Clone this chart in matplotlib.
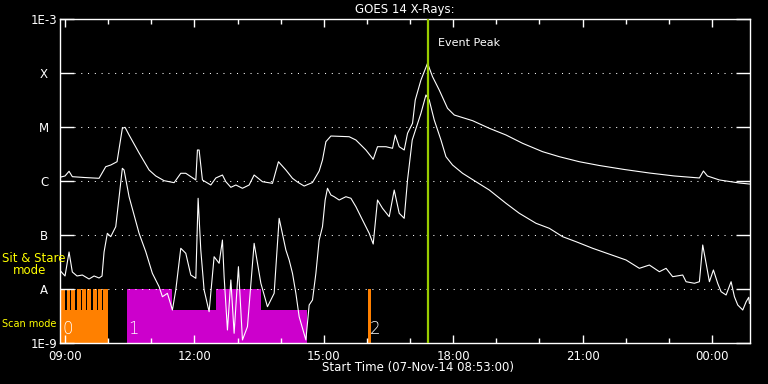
import numpy as np
import matplotlib
matplotlib.use('Agg')
import matplotlib.pyplot as plt
from matplotlib.ticker import NullLocator, FixedLocator

# times are hours from 00:00 on 07-Nov-14 (values > 24 are next day)
# flux given as log10(W/m^2)
long_t = [8.877, 9.0, 9.093, 9.169, 9.441, 9.789, 9.944, 10.060, 10.206, 10.329,
          10.392, 10.485, 10.717, 10.949, 11.104, 11.297, 11.529, 11.684, 11.800, 12.033,
          12.070, 12.109, 12.186, 12.381, 12.497, 12.650, 12.729, 12.845, 12.961, 13.114,
          13.269, 13.385, 13.578, 13.810, 13.949, 14.121, 14.274, 14.390, 14.545, 14.738,
          14.893, 14.970, 15.049, 15.165, 15.589, 15.745, 15.977, 16.146, 16.246, 16.441,
          16.594, 16.657, 16.749, 16.865, 16.942, 17.058, 17.121, 17.253, 17.406, 17.522,
          17.677, 17.870, 18.026, 18.450, 18.838, 19.225, 19.610, 20.074, 20.462, 20.926,
          21.390, 21.970, 22.550, 23.130, 23.710, 23.803, 23.896, 24.174, 24.638, 24.870]
long_lg = [-5.931, -5.907, -5.820, -5.920, -5.935, -5.950, -5.735, -5.704, -5.643, -5.024,
           -5.006, -5.148, -5.481, -5.796, -5.907, -5.994, -6.031, -5.857, -5.857, -5.981,
           -5.426, -5.426, -5.981, -6.074, -5.944, -5.889, -6.013, -6.117, -6.074, -6.135,
           -6.074, -5.889, -6.013, -6.043, -5.643, -5.796, -5.950, -6.019, -6.093, -6.028,
           -5.815, -5.611, -5.272, -5.167, -5.180, -5.241, -5.426, -5.598, -5.365, -5.365,
           -5.394, -5.148, -5.365, -5.426, -5.117, -4.931, -4.500, -4.130, -3.820, -4.069,
           -4.315, -4.654, -4.778, -4.883, -5.024, -5.148, -5.302, -5.457, -5.550, -5.643,
           -5.713, -5.787, -5.852, -5.907, -5.944, -5.815, -5.907, -5.981, -6.037, -6.056]

short_t = [8.877, 8.937, 9.0, 9.093, 9.169, 9.278, 9.401, 9.557, 9.673, 9.789,
           9.858, 9.905, 9.981, 10.060, 10.176, 10.329, 10.369, 10.485, 10.717, 10.872,
           11.025, 11.181, 11.258, 11.374, 11.490, 11.568, 11.684, 11.800, 11.916, 12.033,
           12.086, 12.148, 12.225, 12.341, 12.457, 12.573, 12.650, 12.689, 12.766, 12.845,
           12.921, 13.021, 13.114, 13.230, 13.385, 13.541, 13.694, 13.849, 13.965, 14.121,
           14.197, 14.274, 14.353, 14.429, 14.585, 14.661, 14.738, 14.817, 14.893, 14.970,
           15.032, 15.086, 15.165, 15.241, 15.357, 15.513, 15.629, 15.745, 15.898, 16.053,
           16.146, 16.246, 16.362, 16.517, 16.633, 16.749, 16.865, 16.942, 17.051, 17.253,
           17.369, 17.445, 17.561, 17.717, 17.833, 17.986, 18.218, 18.529, 18.838, 19.225,
           19.534, 19.921, 20.230, 20.538, 20.849, 21.234, 22.009, 22.318, 22.550, 22.782,
           22.937, 23.090, 23.323, 23.401, 23.594, 23.710, 23.787, 23.865, 23.942, 24.035,
           24.134, 24.213, 24.329, 24.445, 24.522, 24.599, 24.715, 24.794, 24.854, 24.870]
short_lg = [-7.648, -7.704, -7.759, -7.315, -7.685, -7.759, -7.741, -7.815, -7.759, -7.796,
            -7.759, -7.315, -6.969, -7.031, -6.846, -5.765, -5.796, -6.291, -6.969, -7.309,
            -7.709, -7.957, -8.143, -8.080, -8.389, -8.019, -7.246, -7.339, -7.741, -7.802,
            -6.320, -7.278, -8.019, -8.420, -7.402, -7.524, -7.093, -7.772, -8.759, -7.833,
            -8.820, -7.587, -8.944, -8.698, -7.154, -7.894, -8.328, -8.080, -6.691, -7.278,
            -7.463, -7.709, -8.080, -8.513, -8.944, -8.296, -8.204, -7.709, -7.093, -6.846,
            -6.352, -6.135, -6.259, -6.291, -6.352, -6.291, -6.320, -6.476, -6.722, -6.969,
            -7.167, -6.352, -6.506, -6.661, -6.167, -6.598, -6.691, -5.981, -5.241, -4.746,
            -4.407, -4.500, -4.870, -5.241, -5.550, -5.704, -5.857, -6.013, -6.167, -6.413,
            -6.598, -6.783, -6.876, -7.031, -7.124, -7.246, -7.463, -7.617, -7.556, -7.680,
            -7.617, -7.772, -7.741, -7.865, -7.894, -7.865, -7.185, -7.524, -7.865, -7.648,
            -7.894, -8.050, -8.111, -7.865, -8.143, -8.296, -8.389, -8.235, -8.154, -8.265]

# instrument mode blocks: (start, end) in hours
scan_blocks = [(8.884, 9.998), (10.439, 14.615)]
scan_colors = ['#ff8000', '#cc00cc']
stare_blocks = [(8.884, 8.993), (9.039, 9.116), (9.146, 9.239), (9.271, 9.364),
                (9.401, 9.480), (9.517, 9.610), (9.643, 9.735), (9.766, 9.852),
                (9.889, 9.998), (10.439, 11.483), (12.503, 13.548), (16.030, 16.088)]
stare_colors = ['#ff8000'] * 9 + ['#cc00cc', '#cc00cc', '#ff8000']
block_labels = ['0', '1', '2']
block_label_t = [8.95, 10.47, 16.06]

scan_level = -8.389
stare_level = -8.0
peak_t = 17.42

level_vals = [1e-9, 1e-8, 1e-7, 1e-6, 1e-5, 1e-4, 1e-3]
level_names = ['1E-9', 'A', 'B', 'C', 'M', 'X', '1E-3']
hour_ticks = [9, 12, 15, 18, 21, 24]
hour_labels = ['09:00', '12:00', '15:00', '18:00', '21:00', '00:00']

fig = plt.figure(figsize=(7.68, 3.84), dpi=100, facecolor='black')
ax = fig.add_axes([60 / 768, 1 - 343 / 384, 690 / 768, 324 / 384], facecolor='black')
ax.set_yscale('log')
ax.set_xlim(8.8833, 24.8833)
ax.set_ylim(1e-9, 1e-3)

for (a, b), c in zip(scan_blocks, scan_colors):
    ax.bar(a, 10 ** scan_level - 1e-9, width=b - a, bottom=1e-9, align='edge',
           color=c, linewidth=0, antialiased=False, zorder=1)
for (a, b), c in zip(stare_blocks, stare_colors):
    ax.bar(a, 10 ** stare_level - 1e-9, width=b - a, bottom=1e-9, align='edge',
           color=c, linewidth=0, antialiased=False, zorder=1)
for t, s in zip(block_label_t, block_labels):
    ax.text(t, 1.25e-9, s, color='white', fontsize=12, fontweight='light',
            ha='left', va='bottom', zorder=4)

# dotted level lines
for v in level_vals[1:-1]:
    ax.axhline(v, xmin=14 / 690, xmax=1 - 14 / 690, color='white', lw=0.75,
               linestyle=(0, (1, 5.5)), zorder=2)

ax.plot(long_t, 10 ** np.array(long_lg), color='white', lw=0.8, zorder=3)
ax.plot(short_t, 10 ** np.array(short_lg), color='white', lw=0.8, zorder=3)

ax.axvline(peak_t, color='#99cc00', lw=1.6, zorder=5)
ax.text(peak_t + 0.22, 10 ** -3.45, 'Event Peak', color='white', fontsize=8,
        ha='left', va='center')

for sp in ax.spines.values():
    sp.set_color('white')
    sp.set_linewidth(1.0)

ax.yaxis.set_major_locator(FixedLocator(level_vals))
ax.yaxis.set_minor_locator(NullLocator())
ax.set_yticklabels(level_names)
for lab in ax.get_yticklabels():
    lab.set_horizontalalignment('center')
ax.tick_params(axis='y', which='major', direction='in', length=10, width=1,
               colors='white', right=True, labelsize=8.5, pad=11.5)

ax.set_xticks(hour_ticks)
ax.set_xticklabels(hour_labels)
ax.xaxis.set_minor_locator(FixedLocator(np.arange(9, 25)))
ax.tick_params(axis='x', which='major', direction='in', length=6, width=1,
               colors='white', top=True, labelsize=8.5, pad=5)
ax.tick_params(axis='x', which='minor', direction='in', length=3.5, width=1,
               colors='white', top=True)

fig.text(405 / 768, 1 - 10 / 384, 'GOES 14 X-Rays:', color='white', fontsize=8.5,
         ha='center', va='center')
fig.text(418 / 768, 1 - 368 / 384, 'Start Time (07-Nov-14 08:53:00)', color='white',
         fontsize=8.5, ha='center', va='center')
fig.text(2 / 768, 1 - 258 / 384, 'Sit & Stare', color='yellow', fontsize=8.5,
         ha='left', va='center')
fig.text(13 / 768, 1 - 271 / 384, 'mode', color='yellow', fontsize=8.5,
         ha='left', va='center')
fig.text(2 / 768, 1 - 324 / 384, 'Scan mode', color='yellow', fontsize=7,
         ha='left', va='center')

fig.savefig('out.png', dpi=100, facecolor='black')
